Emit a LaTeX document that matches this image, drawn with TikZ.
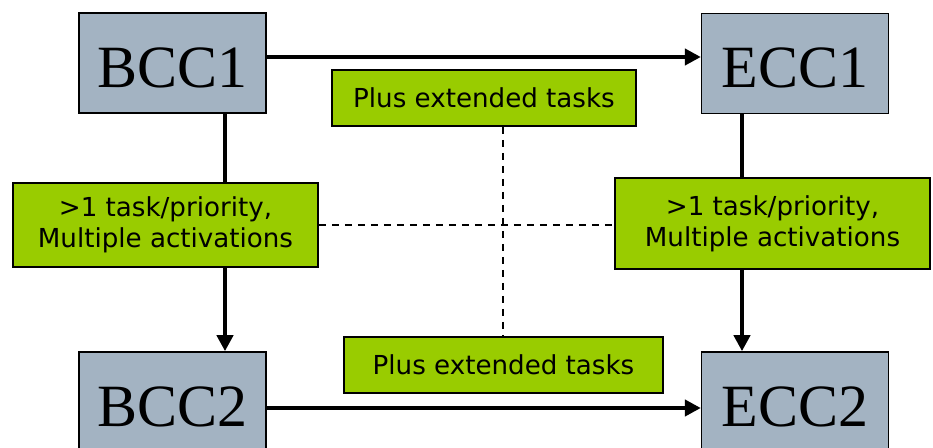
\documentclass[tikz,border=0pt]{standalone}
\usepackage{fontspec}
\setmainfont{Liberation Serif}
\newfontfamily\labelfont{DejaVu Sans}
\usetikzlibrary{arrows.meta,backgrounds}

\definecolor{ccgray}{RGB}{163,179,194}
\definecolor{ccgreen}{RGB}{153,204,0}

\tikzset{
  ccbox/.style={draw=black, line width=1.2pt, fill=ccgray, inner sep=0pt,
    minimum width=140pt, minimum height=75pt,
    font=\fontsize{45}{50}\selectfont, text height=36.5pt, text depth=0pt},
  notebox/.style={draw=black, line width=1.2pt, fill=ccgreen, inner sep=0pt,
    align=center, font=\labelfont\fontsize{19.6}{23.3}\selectfont},
  flow/.style={line width=3.5pt, -{Triangle[length=12pt,width=12pt]}},
  link/.style={line width=1.5pt, dash pattern=on 5.25pt off 4.5pt},
}

\begin{document}
\begin{tikzpicture}[x=0.75pt, y=-0.75pt]
  \useasboundingbox (0,0) rectangle (933,447);
  \clip (0,0) rectangle (933,447);

  % conformance classes
  \node[ccbox] (BCC1) at (172.5,63) {BCC1};
  \node[ccbox] (ECC1) at (795,63.5) {ECC1};
  \node[ccbox] (BCC2) at (172.5,402) {BCC2};
  \node[ccbox] (ECC2) at (795,402) {ECC2};

  % feature notes
  \node[notebox, minimum width=228pt, minimum height=42pt] (extTop) at (484,98) {Plus extended tasks};
  \node[notebox, minimum width=239pt, minimum height=42pt] (extBot) at (503.5,365) {Plus extended tasks};
  \node[notebox, minimum width=229pt, minimum height=63pt] (multL) at (165.5,225) {>1 task/priority,\\Multiple activations};
  \node[notebox, minimum width=236pt, minimum height=68pt] (multR) at (772.5,223.5) {>1 task/priority,\\Multiple activations};

  % guide positions for the connectors
  \coordinate (rowTop) at (0,57);
  \coordinate (rowBot) at (0,408);
  \coordinate (colL) at (225,0);
  \coordinate (colR) at (742,0);
  \coordinate (colM) at (503,0);

  \begin{scope}[on background layer]
    \draw[flow] (BCC1.east |- rowTop) -- (ECC1.west |- rowTop);
    \draw[flow] (BCC2.east |- rowBot) -- (ECC2.west |- rowBot);
    \draw[flow] (colL |- BCC1.south) -- (colL |- BCC2.north);
    \draw[flow] (colR |- ECC1.south) -- (colR |- ECC2.north);
    \draw[link] (multL.east) -- (multL.east -| multR.west);
    \draw[link] (colM |- extTop.south) -- (colM |- extBot.north);
  \end{scope}
\end{tikzpicture}
\end{document}
